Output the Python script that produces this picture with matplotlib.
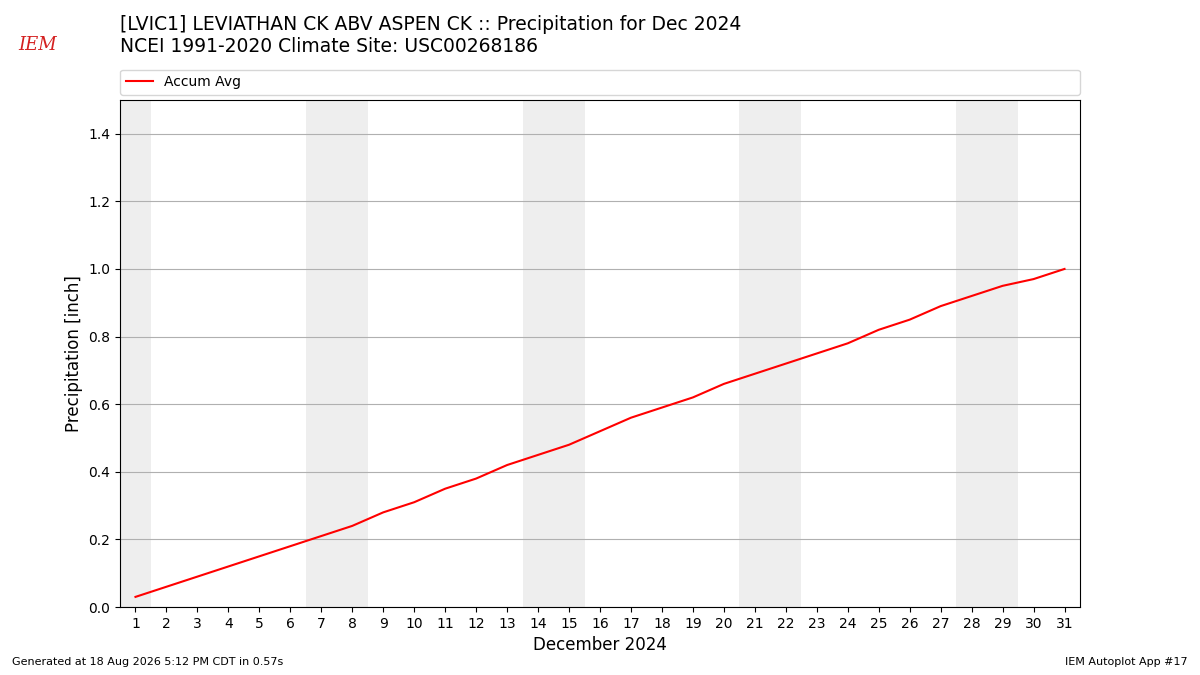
import matplotlib
matplotlib.use("Agg")
import matplotlib.pyplot as plt

# Dec 2024 daily accumulated climatology (inch)
days = list(range(1, 32))
accum_avg = [0.03, 0.06, 0.09, 0.12, 0.15, 0.18, 0.21, 0.24, 0.28, 0.31,
             0.35, 0.38, 0.42, 0.45, 0.48, 0.52, 0.56, 0.59, 0.62, 0.66,
             0.69, 0.72, 0.75, 0.78, 0.82, 0.85, 0.89, 0.92, 0.95, 0.97,
             1.00]
weekend_days = [1, 7, 8, 14, 15, 21, 22, 28, 29]

fig = plt.figure(figsize=(12, 6.75), dpi=100)
ax = fig.add_axes([0.1, 0.1007, 0.8, 0.7513])

for d in weekend_days:
    ax.axvspan(d - 0.5, d + 0.5, color="#eeeeee", lw=0, zorder=0)

ax.plot(days, accum_avg, color="r", lw=1.5, label="Accum Avg", zorder=3)

ax.set_xlim(0.5, 31.5)
ax.set_ylim(0, 1.5)
ax.set_xticks(days)
ax.set_yticks([0.0, 0.2, 0.4, 0.6, 0.8, 1.0, 1.2, 1.4])
ax.grid(axis="y", color="#b0b0b0", lw=0.8, zorder=1)
ax.set_axisbelow(True)
ax.set_xlabel("December 2024", fontsize=12)
ax.set_ylabel("Precipitation [inch]", fontsize=12)

ax.legend(loc="lower left", bbox_to_anchor=(0, 1.01, 1, 0.05), mode="expand",
          ncol=1, fontsize=10, borderaxespad=0)

fig.text(0.1, 0.948, "[LVIC1] LEVIATHAN CK ABV ASPEN CK :: Precipitation for Dec 2024\n"
         "NCEI 1991-2020 Climate Site: USC00268186",
         fontsize=13.5, va="center", ha="left")

# crude stand-in for the logo
fig.text(0.031, 0.933, "IEM", color="#d42020", fontsize=13, style="italic",
         family="DejaVu Serif", ha="center", va="center")

fig.text(0.01, 0.015, "Generated at 18 Aug 2026 5:12 PM CDT in 0.57s", fontsize=8)
fig.text(0.99, 0.015, "IEM Autoplot App #17", fontsize=8, ha="right")

fig.savefig("out.png", dpi=100)
